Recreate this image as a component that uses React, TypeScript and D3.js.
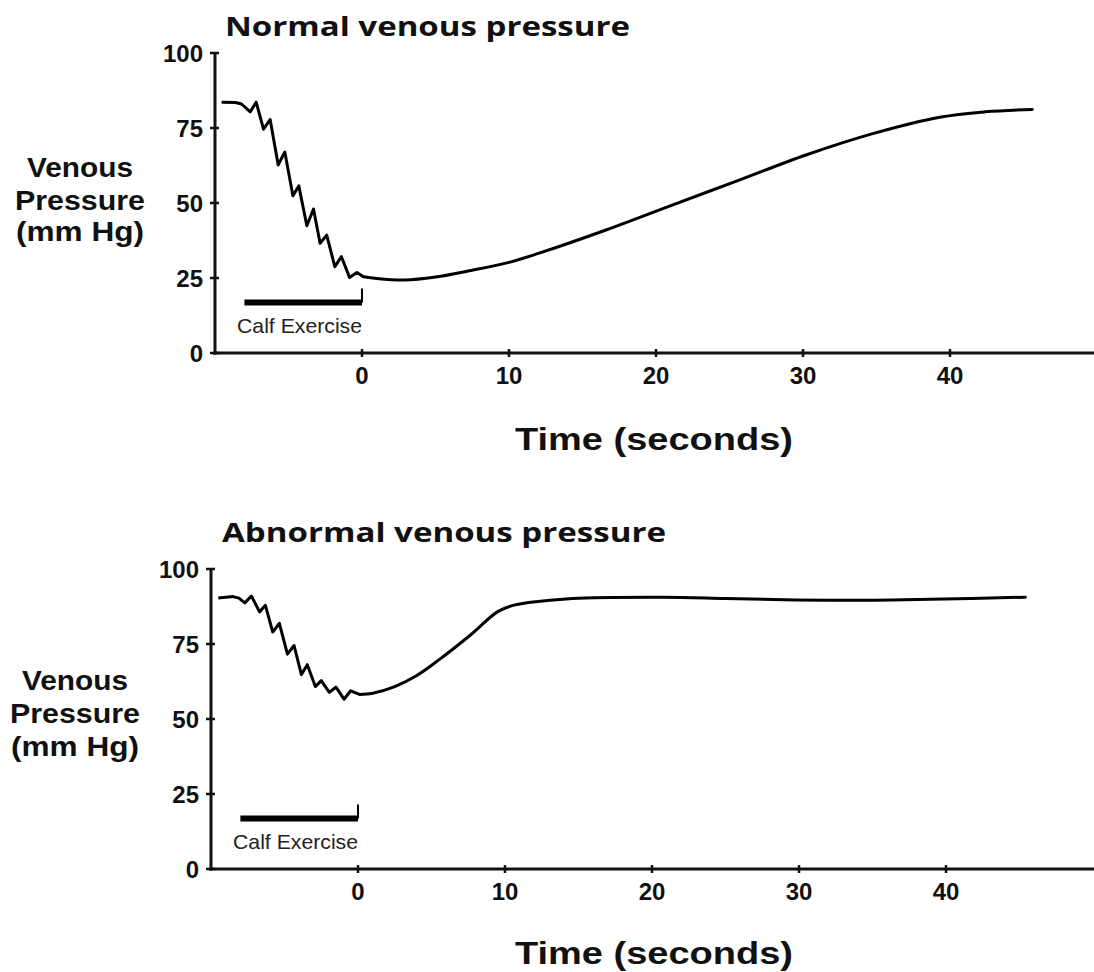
import React from "react";
import * as d3 from "d3";

type Pt = [number, number];

// ---- data ----
const xTicks = [0, 10, 20, 30, 40];
const yTicks = [0, 25, 50, 75, 100];
const xDomain: [number, number] = [-10, 50];
const yDomain: [number, number] = [0, 100];

const exercisePeriod: [number, number] = [-8, 0];
const exerciseBarLevel = 16.8;
const exerciseTickTop = 21.5;
const exerciseLabelLevel = 6.8;
const exerciseLabelCenter = -4.25;

const normalTitle = "Normal venous pressure";
const abnormalTitle = "Abnormal venous pressure";
const yLabelLines = ["Venous", "Pressure", "(mm Hg)"];
const xLabel = "Time (seconds)";
const exerciseLabel = "Calf Exercise";

// normal: pressure during calf exercise (sawtooth)
const normalExercise: Pt[] = [
  [-9.55, 83.6], [-8.6, 83.5], [-8.2, 83.0], [-7.6, 80.4], [-7.2, 83.6],
  [-6.7, 74.6], [-6.25, 77.8], [-5.7, 62.7], [-5.25, 67.0], [-4.7, 52.4],
  [-4.3, 55.7], [-3.75, 42.4], [-3.3, 48.0], [-2.85, 36.6], [-2.4, 39.3],
  [-1.85, 28.8], [-1.4, 32.1], [-0.85, 25.2], [-0.35, 26.8], [0.1, 25.4],
];
// normal: recovery after exercise
const normalRecovery: Pt[] = [
  [0.1, 25.4], [1.0, 24.8], [2.9, 24.3], [5, 25.3], [7.5, 27.6], [10, 30.2],
  [12, 33.2], [16.6, 41], [21.1, 49.3], [25.7, 57.7], [30.2, 66], [34.8, 73.2],
  [39.3, 78.6], [42.4, 80.4], [45.6, 81.2],
];

// abnormal: pressure during calf exercise (sawtooth)
const abnormalExercise: Pt[] = [
  [-9.5, 90.3], [-8.5, 90.8], [-8.1, 90.3], [-7.7, 88.7], [-7.25, 91.0],
  [-6.7, 85.7], [-6.3, 87.9], [-5.8, 79.0], [-5.35, 81.9], [-4.8, 71.6],
  [-4.35, 74.5], [-3.85, 64.8], [-3.45, 68.1], [-2.9, 60.8], [-2.5, 62.8],
  [-1.95, 58.9], [-1.5, 60.6], [-0.95, 56.6], [-0.5, 59.4], [0.1, 58.2],
];
// abnormal: recovery after exercise
const abnormalRecovery: Pt[] = [
  [0.1, 58.2], [1.0, 58.6], [2.5, 60.8], [4, 64.5], [5.5, 69.7], [7.65, 78],
  [9.5, 85.8], [10.5, 87.8], [11.6, 88.8], [14.6, 90.2], [20.7, 90.6],
  [25, 90.2], [29.8, 89.7], [35, 89.6], [38.9, 89.9], [45.4, 90.6],
];

const LABEL_FONT = "'Liberation Sans', Arial, sans-serif";
const TITLE_FONT = "'Open Sans', 'Noto Sans', sans-serif";
const Y_LABEL_LENGTHS = [106, 130, 128];

interface PanelProps {
  title: string;
  titleX: number;
  titleY: number;
  titleLen: number;
  left: number;
  top: number;
  bottom: number;
  right: number;
  yLabelX: number;
  yLabelBaselines: number[];
  xLabelY: number;
  exercise: Pt[];
  recovery: Pt[];
}

function Panel(p: PanelProps) {
  const x = d3.scaleLinear().domain(xDomain).range([p.left, p.right]);
  const y = d3.scaleLinear().domain(yDomain).range([p.bottom, p.top]);
  const lin = d3
    .line<Pt>()
    .x((d) => x(d[0]))
    .y((d) => y(d[1]))
    .curve(d3.curveLinear);
  const smooth = d3
    .line<Pt>()
    .x((d) => x(d[0]))
    .y((d) => y(d[1]))
    .curve(d3.curveCatmullRom.alpha(0.5));
  const axisY = y(0);
  return (
    <g>
      <text
        x={p.titleX}
        y={p.titleY}
        fontFamily={TITLE_FONT}
        fontWeight="bold"
        fontSize={27}
        fill="#111"
        textLength={p.titleLen}
        lengthAdjust="spacingAndGlyphs"
      >
        {p.title}
      </text>
      {/* y axis */}
      <line x1={p.left} x2={p.left} y1={y(100) - 1} y2={axisY + 1.5} stroke="#111" strokeWidth={3} />
      {yTicks.map((t) => (
        <g key={"yt" + t}>
          <line x1={p.left - 5} x2={p.left + 4} y1={y(t)} y2={y(t)} stroke="#111" strokeWidth={2.5} />
          <text
            x={p.left - 12}
            y={y(t)}
            dy="0.36em"
            textAnchor="end"
            fontFamily={LABEL_FONT}
            fontWeight="bold"
            fontSize={24}
            fill="#111"
          >
            {t}
          </text>
        </g>
      ))}
      {/* x axis */}
      <line x1={p.left - 2} x2={1094} y1={axisY} y2={axisY} stroke="#111" strokeWidth={3} />
      {xTicks.map((t) => (
        <g key={"xt" + t}>
          <line x1={x(t)} x2={x(t)} y1={axisY - 4} y2={axisY + 4} stroke="#111" strokeWidth={2.5} />
          <text
            x={x(t)}
            y={axisY + 31}
            textAnchor="middle"
            fontFamily={LABEL_FONT}
            fontWeight="bold"
            fontSize={24}
            fill="#111"
          >
            {t}
          </text>
        </g>
      ))}
      {/* y label */}
      {yLabelLines.map((s, i) => (
        <text
          key={s}
          x={p.yLabelX}
          y={p.yLabelBaselines[i]}
          textAnchor="middle"
          fontFamily={LABEL_FONT}
          fontWeight="bold"
          fontSize={28}
          fill="#111"
          textLength={Y_LABEL_LENGTHS[i]}
          lengthAdjust="spacingAndGlyphs"
        >
          {s}
        </text>
      ))}
      {/* x label */}
      <text
        x={654}
        y={p.xLabelY}
        textAnchor="middle"
        fontFamily={LABEL_FONT}
        fontWeight="bold"
        fontSize={32}
        fill="#111"
        textLength={278}
        lengthAdjust="spacingAndGlyphs"
      >
        {xLabel}
      </text>
      {/* exercise marker */}
      <line
        x1={x(exercisePeriod[0])}
        x2={x(exercisePeriod[1])}
        y1={y(exerciseBarLevel)}
        y2={y(exerciseBarLevel)}
        stroke="#000"
        strokeWidth={6}
      />
      <line
        x1={x(exercisePeriod[1])}
        x2={x(exercisePeriod[1])}
        y1={y(exerciseTickTop)}
        y2={y(exerciseBarLevel)}
        stroke="#000"
        strokeWidth={2}
      />
      <text
        x={x(exerciseLabelCenter)}
        y={y(exerciseLabelLevel)}
        textAnchor="middle"
        fontFamily={LABEL_FONT}
        fontSize={21}
        fill="#222"
        textLength={125}
        lengthAdjust="spacingAndGlyphs"
      >
        {exerciseLabel}
      </text>
      {/* curves */}
      <path d={lin(p.exercise) || ""} fill="none" stroke="#000" strokeWidth={3} strokeLinejoin="round" />
      <path d={smooth(p.recovery) || ""} fill="none" stroke="#000" strokeWidth={3} strokeLinecap="round" />
    </g>
  );
}

export default function App() {
  return (
    <svg
      width={1094}
      height={972}
      style={{ position: "absolute", left: 0, top: 0, background: "#fff" }}
    >
      <rect width={1094} height={972} fill="#fff" />
      <Panel
        title={normalTitle}
        titleX={225}
        titleY={36}
        titleLen={405}
        left={215}
        top={53}
        bottom={353}
        right={1097}
        yLabelX={80}
        yLabelBaselines={[177, 210, 241]}
        xLabelY={450}
        exercise={normalExercise}
        recovery={normalRecovery}
      />
      <Panel
        title={abnormalTitle}
        titleX={222}
        titleY={542}
        titleLen={444}
        left={211}
        top={569}
        bottom={869}
        right={1093}
        yLabelX={75}
        yLabelBaselines={[690, 723, 756]}
        xLabelY={964}
        exercise={abnormalExercise}
        recovery={abnormalRecovery}
      />
    </svg>
  );
}
